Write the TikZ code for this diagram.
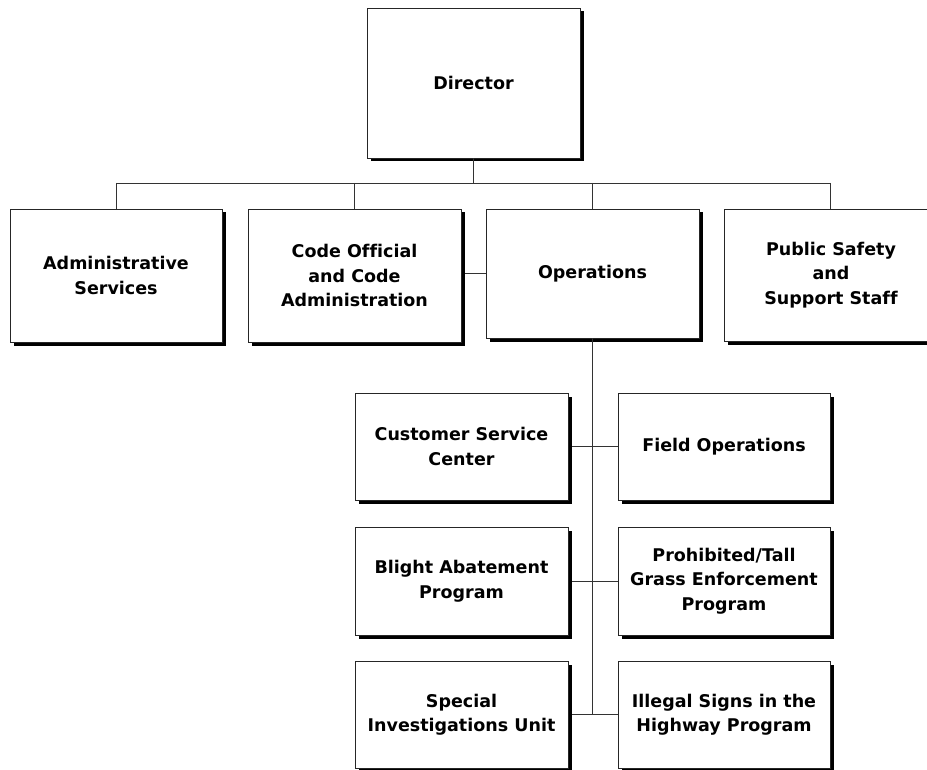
\documentclass[tikz,border=0pt]{standalone}
\usepackage{fontspec}
\setmainfont{DejaVu Sans}[BoldFont={DejaVu Sans Bold}, Ligatures=NoCommon]
\usetikzlibrary{shadows}
\begin{document}
\begin{tikzpicture}[x=1pt,y=-1pt,
  box/.style={draw=black!85, line width=0.8pt, fill=white, inner sep=0pt,
    align=center, font=\fontsize{17.5}{24.5}\selectfont\bfseries,
    minimum width=213pt,
    drop shadow={shadow xshift=3.5pt, shadow yshift=-3.5pt, fill=black, opacity=1}},
  conn/.style={draw=black!80, line width=0.9pt}]
\useasboundingbox (0,0) rectangle (927,770);
% top
\node[box, minimum height=150pt] (dir) at (473.5,83) {Director};
\node[box, minimum width=212pt, minimum height=133pt] (adm) at (116,275.5) {Administrative\\Services};
\node[box, minimum height=133pt] (code) at (354.5,275.5) {Code Official\\and Code\\Administration};
\node[box, minimum height=129pt] (ops) at (592.5,273.5) {Operations};
\node[box, minimum width=214pt, minimum height=132pt] (pub) at (831,275) {Public Safety\\and\\Support Staff};
% lower
\node[box, minimum height=107pt] (csc) at (461.5,446.5) {Customer Service\\Center};
\node[box, minimum width=212pt, minimum height=107pt] (fld) at (724,446.5) {Field Operations};
\node[box, minimum height=108pt] (bap) at (461.5,581) {Blight Abatement\\Program};
\node[box, minimum width=212pt, minimum height=108pt] (tg) at (724,581) {Prohibited/Tall\\Grass Enforcement\\Program};
\node[box, minimum height=107pt] (siu) at (461.5,714.5) {Special\\Investigations Unit};
\node[box, minimum width=212pt, minimum height=107pt] (ils) at (724,714.5) {Illegal Signs in the\\Highway Program};
% bus
\coordinate (busL) at (116,183);
\coordinate (busR) at (830,183);
\coordinate (busM) at (473,183);
\draw[conn] (dir.south -| busM) -- (busM);
\draw[conn] (busL) -- (busR);
\draw[conn] (busL) -- (busL |- adm.north);
\draw[conn] (354,183) -- (354,209);
\draw[conn] (592,183) -- (592,209);
\draw[conn] (busR) -- (busR |- pub.north);
\draw[conn] ([xshift=3.5pt]code.east |- 0,273) -- (ops.west |- 0,273);
% spine
\coordinate (spB) at (592,714);
\draw[conn] (592,338) -- (spB);
\draw[conn] ([xshift=3.5pt]csc.east) -- (fld.west);
\draw[conn] ([xshift=3.5pt]bap.east) -- (tg.west);
\draw[conn] ([xshift=3.5pt]siu.east) -- (ils.west);
\end{tikzpicture}
\end{document}
